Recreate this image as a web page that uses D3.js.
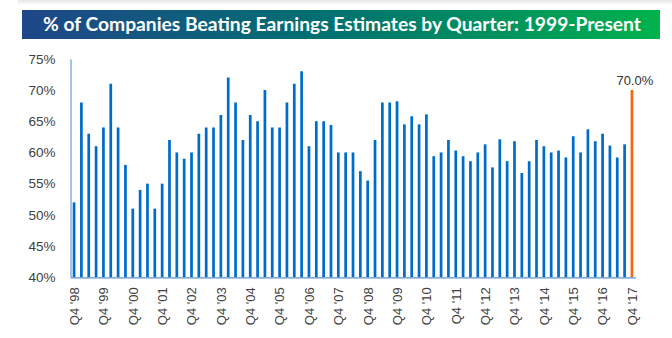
<!DOCTYPE html>
<html><head><meta charset="utf-8">
<script src="https://cdn.jsdelivr.net/npm/d3@7"></script>
<style>body{margin:0;background:#fff}svg{display:block}</style>
</head><body>
<svg id="c" width="672" height="338"></svg>
<script>
const title = "% of Companies Beating Earnings Estimates by Quarter: 1999-Present";
// Quarter categories Q4 '98 .. Q4 '17
const categories = ["Q4 '98"];
for (let y = 1999; y <= 2017; y++) for (let q = 1; q <= 4; q++) categories.push("Q" + q + " '" + String(y).slice(2));
const values = [52,68,63,61,64,71,64,58,51,54,55,51,55,62,60,59,60,63,64,64,66,72,68,62,66,65,70,64,64,68,71,73,61,65,65,64.4,60,60,60,57,55.5,62,68,68,68.2,64.5,65.8,64.5,66.1,59.4,60,62,60.3,59.4,58.6,60,61.3,57.6,62.1,58.6,61.8,56.7,58.6,62,61,60,60.3,59.2,62.6,60,63.7,61.8,63,61.1,59.2,61.3,70];
const yTicks = [40,45,50,55,60,65,70,75];
const xTickLabels = ["Q4 '98","Q4 '99","Q4 '00","Q4 '01","Q4 '02","Q4 '03","Q4 '04","Q4 '05","Q4 '06","Q4 '07","Q4 '08","Q4 '09","Q4 '10","Q4 '11","Q4 '12","Q4 '13","Q4 '14","Q4 '15","Q4 '16","Q4 '17"];
const lastLabel = "70.0%";

const svg = d3.select("#c");
const defs = svg.append("defs");
const g1 = defs.append("linearGradient").attr("id","tg");
g1.append("stop").attr("offset","0%").attr("stop-color","#1F4689");
g1.append("stop").attr("offset","50%").attr("stop-color","#00736F");
g1.append("stop").attr("offset","100%").attr("stop-color","#00B24C");
const g2 = defs.append("linearGradient").attr("id","sh").attr("x1",0).attr("y1",0).attr("x2",0).attr("y2",1);
g2.append("stop").attr("offset","0%").attr("stop-color","#e6e6e6");
g2.append("stop").attr("offset","100%").attr("stop-color","#ffffff");

svg.append("rect").attr("x",18).attr("y",0).attr("width",654).attr("height",5).attr("fill","url(#sh)");
svg.append("rect").attr("x",22).attr("y",10).attr("width",638).attr("height",29).attr("fill","url(#tg)");
svg.append("text").attr("x",43).attr("y",31)
  .attr("font-family","Lato, 'Open Sans', sans-serif").attr("font-weight",700).attr("font-size",19.5)
  .attr("fill","#fff").attr("textLength",598).attr("lengthAdjust","spacingAndGlyphs").text(title);

const x = d3.scaleBand().domain(categories).range([70.5, 635.5]).paddingInner(0.63).paddingOuter(0.3);
const y = d3.scaleLinear().domain([40,75]).range([277.3, 58.8]);

svg.append("g").selectAll("rect").data(values).join("rect")
  .attr("x",(d,i)=>x(categories[i]))
  .attr("y",d=>y(d))
  .attr("width",x.bandwidth())
  .attr("height",d=>y(40)-y(d))
  .attr("fill",(d,i)=> i===values.length-1 ? "#F26A10" : "#006CC9");

const yAxis = svg.append("g").attr("transform","translate(70.5,0)")
  .call(d3.axisLeft(y).tickValues(yTicks).tickFormat(d=>d+"%").tickSize(0).tickPadding(15));
yAxis.select(".domain").attr("stroke","#4A88D4");
yAxis.selectAll("text").attr("font-family","Arial, 'Liberation Sans', sans-serif").attr("font-size",13.5).attr("fill","#404040");

const xAxis = svg.append("g").attr("transform","translate(0,277.3)")
  .call(d3.axisBottom(x).tickValues(xTickLabels).tickSize(0).tickSizeOuter(0));
xAxis.select(".domain").attr("stroke","#5A8FCF").attr("stroke-width",1.3);
xAxis.selectAll("text")
  .attr("font-family","Arial, 'Liberation Sans', sans-serif").attr("font-size",13).attr("fill","#404040")
  .attr("text-anchor","end").attr("transform","translate(0.3,10) rotate(-90)")
  .attr("x",0).attr("y",0).attr("dy","0.35em");

const li = values.length - 1;
svg.append("text").attr("x", x(categories[li]) + x.bandwidth()/2 + 3).attr("y", y(values[li]) - 5)
  .attr("text-anchor","middle").attr("font-family","Arial, 'Liberation Sans', sans-serif")
  .attr("font-size",13).attr("fill","#333").text(lastLabel);
</script>
</body></html>
